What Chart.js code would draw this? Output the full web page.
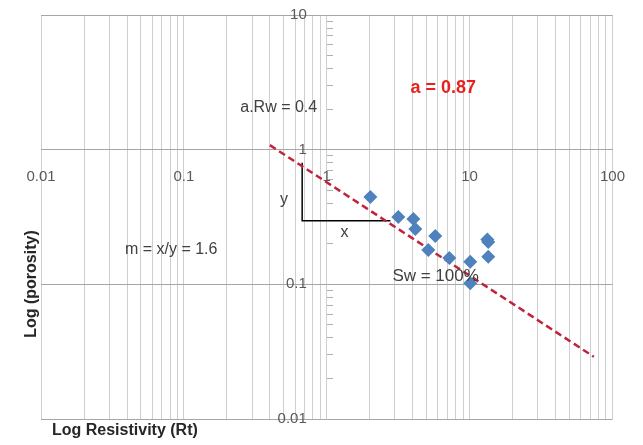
<!DOCTYPE html>
<html>
<head>
<meta charset="utf-8">
<script src="https://cdn.jsdelivr.net/npm/chart.js@4/dist/chart.umd.min.js"></script>
<style>
  html, body { margin: 0; padding: 0; background: #fff; }
  #wrap { width: 643px; height: 445px; }
</style>
</head>
<body>
<div id="wrap"><canvas id="grafico"></canvas></div>
<script>
// Datos (aproximados)
const resistividad = [2.02, 3.17, 4.04, 4.17, 5.75, 5.14, 7.21, 10.1, 10.1, 13.5, 13.5, 13.3];
const porosidad    = [0.445, 0.316, 0.306, 0.258, 0.229, 0.18, 0.157, 0.147, 0.102, 0.206, 0.16, 0.215];

// Recta Sw = 100%
const rectaX = [0.4, 74];
const rectaY = [1.08, 0.029];

// Triangulo de pendiente
const trianguloX = [0.673, 0.673, 2.79];
const trianguloY = [0.8, 0.296, 0.296];

// Etiquetas de los ejes
const ticksX = ['0.01', '0.1', '1', '10', '100'];
const ticksY = ['0.01', '0.1', '1', '10'];

// Textos sobre el grafico (en coordenadas de datos)
const textos = [
  { t: 'a.Rw = 0.4', x: 0.248, y: 2.07, font: '16px "Liberation Sans", Arial', color: '#404040' },
  { t: 'a = 0.87', x: 3.85, y: 2.87, font: 'bold 18px "Liberation Sans", Arial', color: '#e8201e' },
  { t: 'm = x/y = 1.6', x: 0.0387, y: 0.18, font: '16px "Liberation Sans", Arial', color: '#404040' },
  { t: 'Sw = 100%', x: 2.88, y: 0.115, font: '17px "Liberation Sans", Arial', color: '#404040' },
  { t: 'y', x: 0.47, y: 0.423, font: '16px "Liberation Sans", Arial', color: '#404040' },
  { t: 'x', x: 1.25, y: 0.241, font: '16px "Liberation Sans", Arial', color: '#404040' }
];

function pares(xs, ys) {
  return xs.map((x, i) => ({ x: x, y: ys[i] }));
}

// ticks 1..9 de cada decada
function menores(decadas) {
  const vals = [];
  decadas.map(Number).forEach((d, i) => {
    for (let k = 1; k < 10; k++) {
      if (i < decadas.length - 1 || k === 1) vals.push(+(d * k).toPrecision(3));
    }
  });
  return vals.map(v => ({ value: v }));
}

function esDecada(v, lista) {
  return lista.map(Number).some(d => Math.abs(d - v) < d * 1e-6);
}

const textosPlugin = {
  id: 'textos',
  afterDatasetsDraw(chart) {
    const ctx = chart.ctx;
    const sx = chart.scales.x, sy = chart.scales.y;
    const area = chart.chartArea;
    ctx.save();
    ctx.textBaseline = 'middle';
    ctx.textAlign = 'left';
    textos.forEach(o => {
      ctx.font = o.font;
      ctx.fillStyle = o.color;
      ctx.fillText(o.t, sx.getPixelForValue(o.x), sy.getPixelForValue(o.y));
    });
    // titulos de los ejes
    ctx.font = 'bold 16px "Liberation Sans", Arial';
    ctx.fillStyle = '#262626';
    ctx.fillText('Log Resistivity (Rt)', area.left + 11, area.bottom + 12);
    ctx.translate(area.left - 9, 284);
    ctx.rotate(-Math.PI / 2);
    ctx.textAlign = 'center';
    ctx.fillText('Log (porosity)', 0, 0);
    ctx.restore();
  }
};

const ctxGrafico = document.getElementById('grafico').getContext('2d');
const miGrafico = new Chart(ctxGrafico, {
  type: 'scatter',
  data: {
    datasets: [
      {
        label: 'Datos',
        data: pares(resistividad, porosidad),
        pointStyle: 'rectRot',
        pointRadius: 7,
        backgroundColor: '#4f81bd',
        borderColor: '#4f81bd',
        borderWidth: 0
      },
      {
        label: 'Sw = 100%',
        data: pares(rectaX, rectaY),
        showLine: true,
        borderColor: '#c0233c',
        borderWidth: 2.5,
        borderDash: [7, 4],
        pointRadius: 0
      },
      {
        label: 'Triangulo',
        data: pares(trianguloX, trianguloY),
        showLine: true,
        borderColor: '#000000',
        borderWidth: 1.5,
        pointRadius: 0
      }
    ]
  },
  options: {
    responsive: true,
    maintainAspectRatio: false,
    animation: false,
    layout: { padding: { left: 41, right: 30, top: 15, bottom: 26 } },
    plugins: {
      legend: { display: false },
      tooltip: { enabled: false }
    },
    scales: {
      x: {
        type: 'logarithmic',
        min: 0.01,
        max: 100,
        position: { y: 1 },
        afterBuildTicks: s => { s.ticks = menores(ticksX); },
        ticks: {
          autoSkip: false,
          maxRotation: 0,
          padding: 18,
          color: '#595959',
          font: { family: '"Liberation Sans", Arial', size: 15 },
          callback: v => esDecada(v, ticksX) ? String(v) : ''
        },
        grid: {
          color: '#cfcfcf',
          drawTicks: false,
          lineWidth: 1
        },
        border: { display: true, color: '#a6a6a6', width: 1 }
      },
      y: {
        type: 'logarithmic',
        min: 0.01,
        max: 10,
        // etiquetas un poco a la izquierda de x = 1
        position: { x: 0.725 },
        afterBuildTicks: s => { s.ticks = menores(ticksY); },
        ticks: {
          autoSkip: false,
          padding: 0,
          color: '#595959',
          font: { family: '"Liberation Sans", Arial', size: 15 },
          callback: v => esDecada(v, ticksY) ? String(v) : ''
        },
        grid: {
          color: c => esDecada(c.tick.value, ticksY) ? '#a6a6a6' : 'rgba(0,0,0,0)',
          tickColor: c => esDecada(c.tick.value, ticksY) ? 'rgba(0,0,0,0)' : '#b0b0b0',
          tickLength: -26,
          tickBorderDash: [0, 20, 6, 100],
          lineWidth: 1
        },
        border: { display: false }
      }
    }
  },
  plugins: [textosPlugin]
});
</script>
</body>
</html>
